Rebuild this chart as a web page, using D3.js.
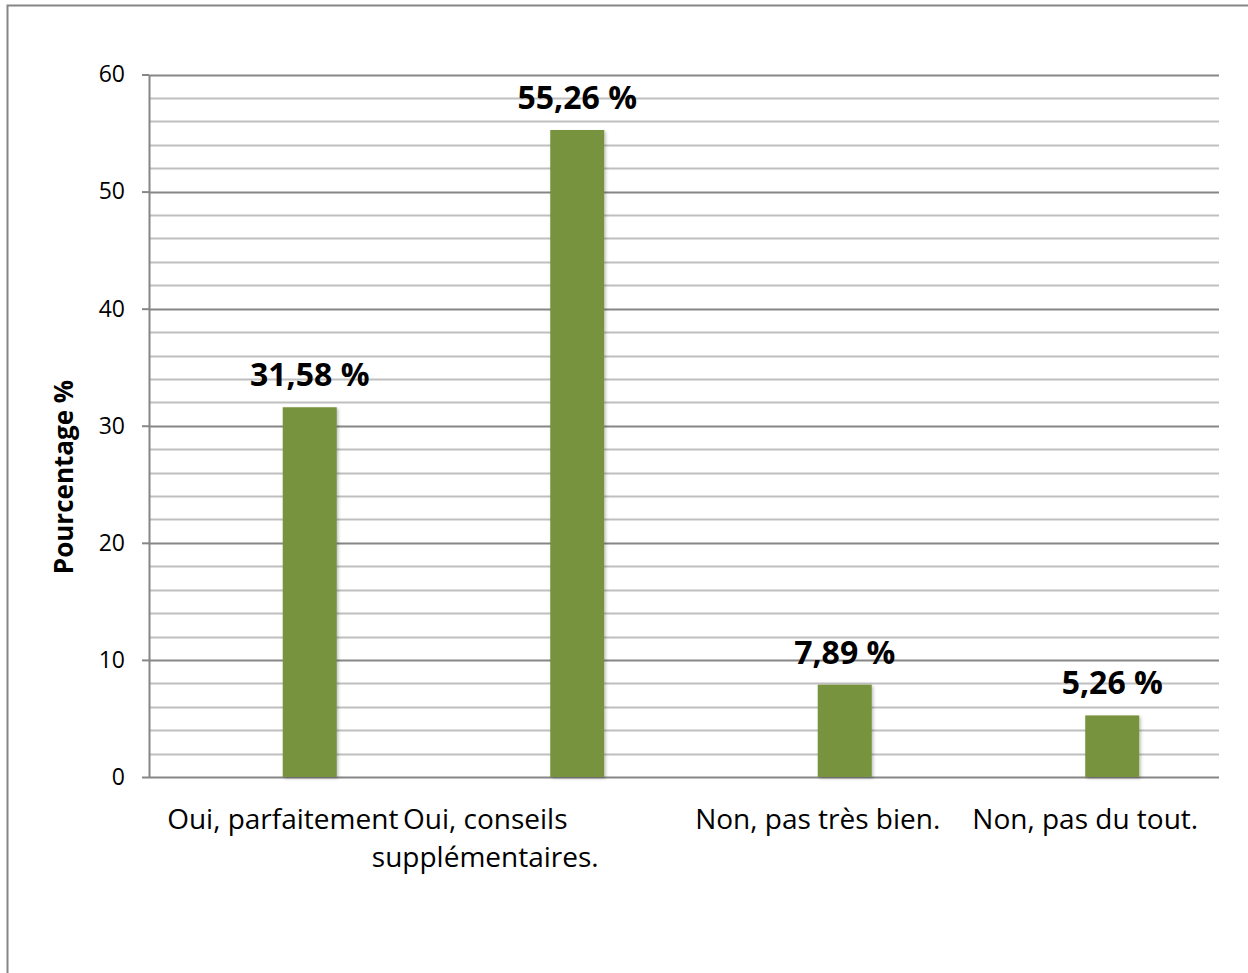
<!DOCTYPE html>
<html><head><meta charset="utf-8">
<script src="https://cdn.jsdelivr.net/npm/d3@7"></script>
<style>body{margin:0;background:#fff;} svg{display:block;font-family:"Open Sans",sans-serif;}</style>
</head><body>
<svg id="chart" width="1248" height="973"></svg>
<script>
const categories = ["Oui, parfaitement", "Oui, conseils supplémentaires.", "Non, pas très bien.", "Non, pas du tout."];
const values = [31.58, 55.26, 7.89, 5.26];
const valueLabels = ["31,58 %", "55,26 %", "7,89 %", "5,26 %"];
const yTicks = [0, 10, 20, 30, 40, 50, 60];
const yMinorTicks = [2,4,6,8,12,14,16,18,22,24,26,28,32,34,36,38,42,44,46,48,52,54,56,58];
const yTitle = "Pourcentage %";

const svg = d3.select("#chart");
const L = 149, R = 1219, T = 74.5, B = 777;

// outer frame
svg.append("rect").attr("x",7.5).attr("y",5.5).attr("width",1260).attr("height",990)
  .attr("fill","#fff").attr("stroke","#868686").attr("stroke-width",2);

const x = d3.scaleBand().domain(categories).range([L, R]).padding(0);
const y = d3.scaleLinear().domain([0, 60]).range([B, T]);

const defs = svg.append("defs");
const f = defs.append("filter").attr("id","sh").attr("x","-20%").attr("y","-5%").attr("width","150%").attr("height","120%");
f.append("feDropShadow").attr("dx",1.5).attr("dy",1.5).attr("stdDeviation",1.5).attr("flood-color","#000").attr("flood-opacity",0.25);

// minor gridlines
svg.append("g").selectAll("line").data(yMinorTicks).join("line")
  .attr("x1",L).attr("x2",R).attr("y1",d=>Math.round(y(d))+0.5).attr("y2",d=>Math.round(y(d))+0.5)
  .attr("stroke","#bfbfbf").attr("stroke-width",2);
// major gridlines
svg.append("g").selectAll("line").data(yTicks).join("line")
  .attr("x1",L).attr("x2",R).attr("y1",d=>Math.round(y(d))+0.5).attr("y2",d=>Math.round(y(d))+0.5)
  .attr("stroke","#868686").attr("stroke-width",2);

// y axis
const yAxis = d3.axisLeft(y).tickValues(yTicks).tickSize(7).tickPadding(17).tickSizeOuter(0);
const gy = svg.append("g").attr("transform",`translate(${L},0)`).call(yAxis);
gy.select(".domain").attr("stroke","#868686").attr("stroke-width",2);
gy.selectAll(".tick line").attr("stroke","#868686").attr("stroke-width",2);
gy.selectAll(".tick text").attr("font-size",23).attr("fill","#000").attr("font-family","Open Sans");

// bars
const barW = 54;
svg.append("g").selectAll("rect").data(values).join("rect")
  .attr("x",(d,i)=>x(categories[i]) + x.bandwidth()/2)
  .attr("y",d=>y(d)).attr("width",barW).attr("height",d=>B - y(d))
  .attr("fill","#77933C").attr("filter","url(#sh)");

// value labels
svg.append("g").selectAll("text").data(values).join("text")
  .attr("x",(d,i)=>x(categories[i]) + x.bandwidth()/2 + barW/2)
  .attr("y",d=>y(d) - 21)
  .attr("text-anchor","middle").attr("font-weight","bold").attr("font-size",32)
  .text((d,i)=>valueLabels[i]);

// x axis category labels (wrapped like reference)
const wrapLines = {1: ["Oui, conseils", "supplémentaires."]};
const nudge = {1: -65};
const gx = svg.append("g");
categories.forEach((c,i)=>{
  const lines = wrapLines[i] || [c];
  const t = gx.append("text").attr("text-anchor","middle").attr("font-size",28)
    .attr("x", x(c) + x.bandwidth()/2 + (nudge[i]||0)).attr("y", 829);
  lines.forEach((ln,k)=>{
    t.append("tspan").attr("x", x(c) + x.bandwidth()/2 + (nudge[i]||0)).attr("dy", k===0?0:38).text(ln);
  });
});

// y title
svg.append("text").attr("transform",`translate(73,477) rotate(-90)`)
  .attr("text-anchor","middle").attr("font-weight","bold").attr("font-size",26).text(yTitle);
</script>
</body></html>
